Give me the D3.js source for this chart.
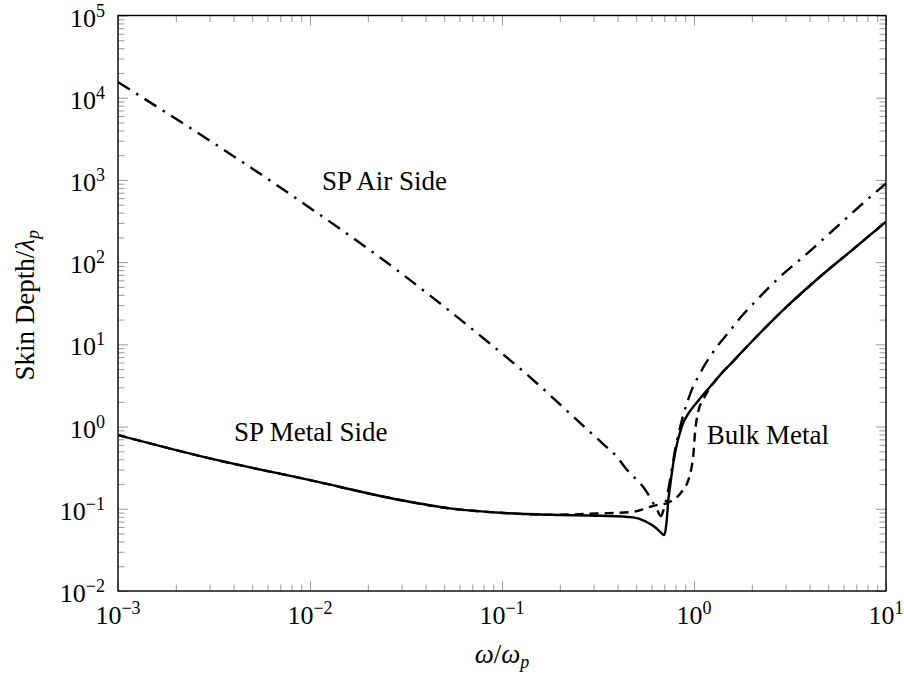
<!DOCTYPE html>
<html>
<head>
<meta charset="utf-8">
<script src="https://cdn.jsdelivr.net/npm/d3@7"></script>
<style>
  html, body { margin: 0; padding: 0; background: #fff; }
  svg { display: block; }
  text { font-family: "Liberation Serif", "DejaVu Serif", serif; fill: #000; }
</style>
</head>
<body>
<svg id="chart" width="904" height="677"></svg>
<script>
// ---------------- data ----------------
// x: omega / omega_p ; y: skin depth / lambda_p
const airOmega = [0.001, 0.00698, 0.0294, 0.0806, 0.1455, 0.1927, 0.2548, 0.337, 0.4034, 0.4371, 0.5669, 0.6393, 0.6732,
                  0.6978, 0.7233, 0.7499, 0.7774, 0.8058, 0.8352, 0.8796, 0.9306, 0.9918, 1.0529, 1.1274, 1.2115, 1.3177,
                  1.5086, 1.7365, 2.1211, 2.805, 3.71, 5.315, 7.934, 10];
const airDepth = [15500, 813, 75.1, 11.7, 3.68, 2.03, 1.11, 0.613, 0.410, 0.319, 0.161, 0.0992, 0.0815,
                  0.102, 0.143, 0.223, 0.370, 0.596, 0.857, 1.38, 2.10, 3.11, 4.04, 5.45, 7.07, 9.40,
                  13.8, 20.9, 34.6, 66.4, 116, 246, 570, 904];

const metalOmega = [0.001, 0.00301, 0.01, 0.0294, 0.0536, 0.0976, 0.178, 0.324, 0.483, 0.556, 0.604, 0.652, 0.681,
                    0.698, 0.711, 0.721, 0.735, 0.750, 0.766, 0.796, 0.863, 0.931, 0.992, 1.075, 1.212, 1.366,
                    1.602, 2.036, 3.040, 4.532, 6.755, 10];
const metalDepth = [0.788, 0.410, 0.223, 0.128, 0.101, 0.0894, 0.0845, 0.0822, 0.0786, 0.0709, 0.0633, 0.0551, 0.0499,
                    0.0479, 0.0551, 0.0729, 0.128, 0.184, 0.270, 0.472, 0.995, 1.42, 1.74, 2.20, 3.05, 4.23,
                    6.26, 11.3, 28.7, 66.4, 144, 310];

const bulkOmega = [0.001, 0.00301, 0.01, 0.0294, 0.0536, 0.0976, 0.178, 0.324, 0.483, 0.590, 0.639, 0.721, 0.750,
                   0.863, 0.934, 0.965, 0.992, 1.012, 1.053, 1.114, 1.260, 1.366, 1.602, 2.036, 3.040, 4.532, 6.755, 10];
const bulkDepth = [0.788, 0.410, 0.223, 0.128, 0.101, 0.0894, 0.0845, 0.0879, 0.0919, 0.1057, 0.1109, 0.1163, 0.1217,
                   0.161, 0.223, 0.296, 0.450, 0.834, 1.54, 2.10, 3.35, 4.23, 6.26, 11.3, 28.7, 66.4, 144, 310];

const xTickValues = [1e-3, 1e-2, 1e-1, 1, 10];
const xTickExponents = ["\u22123", "\u22122", "\u22121", "0", "1"];
const yTickValues = [1e-2, 1e-1, 1, 10, 100, 1e3, 1e4, 1e5];
const yTickExponents = ["\u22122", "\u22121", "0", "1", "2", "3", "4", "5"];

const xLabel = ["\u03C9", "/", "\u03C9", "p"];
const yLabel = ["Skin Depth/", "\u03BB", "p"];
const annotations = [
  { text: "SP Air Side", x: 0.01155, y: 754 },
  { text: "SP Metal Side", x: 0.00402, y: 0.671 },
  { text: "Bulk Metal", x: 1.164, y: 0.612 }
];

// ---------------- layout ----------------
const L = 118, R = 886, T = 15.5, B = 591;
const svg = d3.select("#chart");

const x = d3.scaleLog().domain([1e-3, 10]).range([L, R]);
const y = d3.scaleLog().domain([1e-2, 1e5]).range([B, T]);

function minorTicks(scale) {
  const [a, b] = scale.domain();
  const out = [];
  for (let e = Math.floor(Math.log10(a)); e < Math.ceil(Math.log10(b)); e++) {
    for (let k = 2; k <= 9; k++) {
      const v = k * Math.pow(10, e);
      if (v > a && v < b) out.push(v);
    }
  }
  return out;
}

const tickColor = "#9a9a9a";
const majorLen = 10, minorLen = 6.5;

function styleAxis(g) {
  g.select(".domain").remove();
  g.selectAll(".tick line").attr("stroke", tickColor).attr("stroke-width", 1);
  g.selectAll(".tick text").remove();
}

// minor & major ticks on all four sides, pointing inward
[[d3.axisBottom, x, `translate(0,${B})`], [d3.axisTop, x, `translate(0,${T})`]].forEach(([ax, sc, tr]) => {
  svg.append("g").attr("transform", tr)
    .call(ax(sc).tickValues(minorTicks(sc)).tickSize(-minorLen).tickFormat(""))
    .call(styleAxis);
  svg.append("g").attr("transform", tr)
    .call(ax(sc).tickValues(xTickValues).tickSize(-majorLen).tickFormat(""))
    .call(styleAxis);
});
[[d3.axisLeft, y, `translate(${L},0)`], [d3.axisRight, y, `translate(${R},0)`]].forEach(([ax, sc, tr]) => {
  svg.append("g").attr("transform", tr)
    .call(ax(sc).tickValues(minorTicks(sc)).tickSize(-minorLen).tickFormat(""))
    .call(styleAxis);
  svg.append("g").attr("transform", tr)
    .call(ax(sc).tickValues(yTickValues).tickSize(-majorLen).tickFormat(""))
    .call(styleAxis);
});

// ---------------- curves ----------------
svg.append("clipPath").attr("id", "clip")
  .append("rect").attr("x", L).attr("y", T).attr("width", R - L).attr("height", B - T);

const plot = svg.append("g").attr("clip-path", "url(#clip)");
const line = d3.line().x(d => x(d[0])).y(d => y(d[1])).curve(d3.curveMonotoneX);

const zip = (a, b) => a.map((v, i) => [v, b[i]]);

plot.append("path").datum(zip(metalOmega, metalDepth))
  .attr("d", line).attr("fill", "none").attr("stroke", "#000").attr("stroke-width", 2.4)
  .attr("stroke-linejoin", "round");

plot.append("path").datum(zip(bulkOmega, bulkDepth))
  .attr("d", line).attr("fill", "none").attr("stroke", "#000").attr("stroke-width", 2.4)
  .attr("stroke-dasharray", "9,6");

plot.append("path").datum(zip(airOmega, airDepth))
  .attr("d", line).attr("fill", "none").attr("stroke", "#000").attr("stroke-width", 2.4)
  .attr("stroke-dasharray", "14,7.5,2.5,7.5");

// ---------------- frame ----------------
svg.append("rect").attr("x", L).attr("y", T).attr("width", R - L).attr("height", B - T)
  .attr("fill", "none").attr("stroke", "#000").attr("stroke-width", 1.4);

// ---------------- tick labels ----------------
const tickFont = 26, supFont = 18;
const xl = svg.append("g");
xTickValues.forEach((v, i) => {
  const t = xl.append("text").attr("x", x(v)).attr("y", 624).attr("text-anchor", "middle")
    .style("font-size", tickFont + "px");
  t.append("tspan").text("10");
  t.append("tspan").attr("dy", -10).style("font-size", supFont + "px").text(xTickExponents[i]);
});
const yl = svg.append("g");
yTickValues.forEach((v, i) => {
  const t = yl.append("text").attr("x", 105).attr("y", y(v) + 11).attr("text-anchor", "end")
    .style("font-size", tickFont + "px");
  t.append("tspan").text("10");
  t.append("tspan").attr("dy", -10).style("font-size", supFont + "px").text(yTickExponents[i]);
});

// ---------------- axis labels ----------------
const xt = svg.append("text").attr("x", (L + R) / 2).attr("y", 663).attr("text-anchor", "middle")
  .style("font-size", "27px");
xt.append("tspan").style("font-style", "italic").text(xLabel[0]);
xt.append("tspan").text(xLabel[1]);
xt.append("tspan").style("font-style", "italic").text(xLabel[2]);
xt.append("tspan").attr("dy", 5).style("font-style", "italic").style("font-size", "18px").text(xLabel[3]);

const yt = svg.append("text").attr("transform", `translate(34,${(T + B) / 2 + 2}) rotate(-90)`)
  .attr("text-anchor", "middle").style("font-size", "27px");
yt.append("tspan").text(yLabel[0]);
yt.append("tspan").style("font-style", "italic").text(yLabel[1]);
yt.append("tspan").attr("dy", 5).style("font-style", "italic").style("font-size", "18px").text(yLabel[2]);

// ---------------- annotations ----------------
annotations.forEach(a => {
  svg.append("text").attr("x", x(a.x)).attr("y", y(a.y)).style("font-size", "27px").text(a.text);
});
</script>
</body>
</html>
